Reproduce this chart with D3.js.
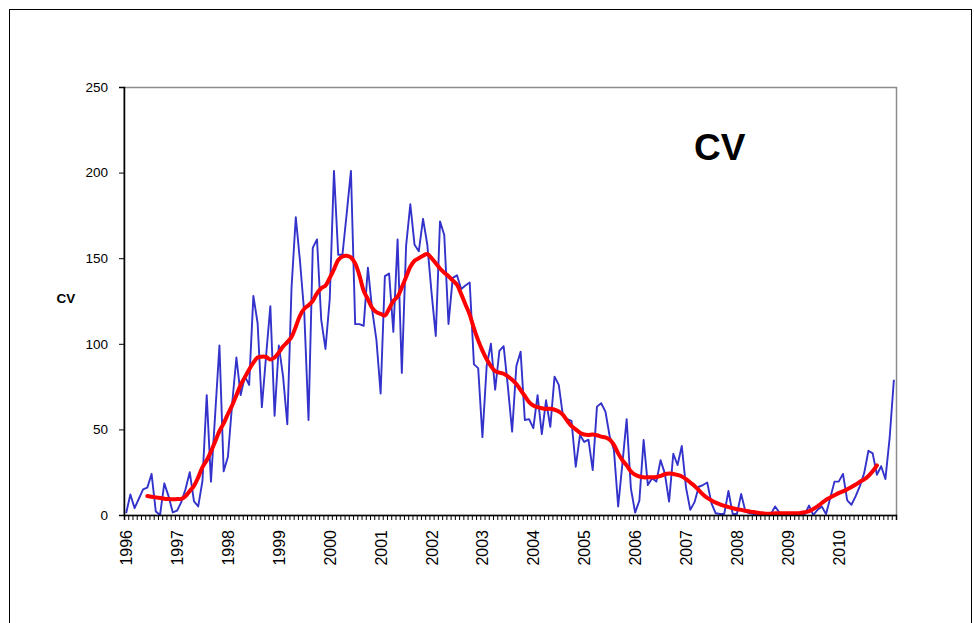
<!DOCTYPE html>
<html><head><meta charset="utf-8">
<script src="https://cdn.jsdelivr.net/npm/d3@7"></script>
<style>body{margin:0;background:#fff}svg{display:block}text{font-family:Arial,"Liberation Sans",sans-serif}</style>
</head><body>
<svg id="c" width="974" height="623"></svg>
<script>
// ---- data ----
const startYear = 1996, monthCount = 182;
const yearLabels = ["1996","1997","1998","1999","2000","2001","2002","2003","2004","2005","2006","2007","2008","2009","2010"];
const yTicks = [0, 50, 100, 150, 200, 250];
const cvMonthly = [
 1,12,4,9.5,15,16,24,2,0,18.5,11,1.5,
 2.5,7.5,15,25,8,5,20,70,19.5,59,99,25.5,
 34,65,92,70,81,76,128,112,63,93,122,58,
 99,81,53,133,174,148,118,55.5,156,161,114,97,
 126,201,152,152,176,201,111.5,111.5,110.5,144.5,120,102.5,
 71,139.5,141,107,161,83,157,181.5,157.8,154,173,158,
 130,104.6,171.5,163.6,111.6,138.5,140,132,134,135.8,88,85.8,
 45.5,87,100,73.2,95.8,98.6,75,48.7,87,95.4,55.5,56,
 50.7,70,47.3,67,51.5,80.8,76,57.5,56,55,28.2,46.7,
 42.7,44,26.2,63.3,65.3,60.4,46,38,5,30,56,15.6,
 1.4,8.4,43.8,17.5,21.4,19.5,32,24.3,7.8,35.8,29.2,40.3,
 16,3,7.5,16.5,17.5,19,6.8,1,0.6,0.6,14,0.6,
 0.6,12.3,2,1,0.5,0.5,0.5,0.5,0.5,5,1.4,0.5,
 0.5,0.5,0.5,0.5,0.5,5.5,0,3,5,0.5,10,19.5,
 19.5,24,8.5,6,11,17,24.5,37.5,36,23.5,28.5,21,
 45,79
];
const cvTrend = [
 null,null,null,null,null,11.1,10.7,10.3,9.9,9.5,9.3,9.2,
 9.3,9.4,11,14,17,22,28,32,37,43,49,53.5,
 59,64,70,76,80.5,85,89,92,92.5,92.3,90.8,92,
 95,98.4,101,104,110,116.5,120.5,122.5,125,129.5,132.5,134,
 138.5,143.5,149,151,151.4,150.5,147,140,131,126,121,118.5,
 117.5,116.5,120.5,125,127.5,133,139,145,148.5,150,151.4,152.5,
 150,147,144,141.5,139.5,137,134.5,129,123,117,109,102,
 96,91,87,84,83.2,82.5,81,79,76.5,73,69.5,66,
 64,63,62.4,62,62,61.5,60.5,58.5,55,52,50,48,
 47,46.8,47,46.6,45.8,45.3,44,41,36,32,29,25.5,
 23.5,22.5,22,22,22,22.2,22.8,23.8,24.3,24,23.4,22.5,
 21,19,17,14.5,12,10,8.5,7.2,6.2,5.4,4.6,4,
 3.4,3,2.5,2,1.7,1.3,1,0.7,0.8,1,1,1,
 1,1,1,1.2,1.6,2.2,3.5,5,7,8.8,10.2,11.5,
 12.8,13.8,15,16.3,17.8,19.4,20.8,22.8,25.5,29,null,null,
 null,null
];
const months = d3.range(monthCount).map(i => `${startYear + Math.floor(i/12)}-${String(i%12+1).padStart(2,"0")}`);

// ---- layout ----
const svg = d3.select("#c");
const L = 124, R = 896, T = 87, B = 515;

svg.append("rect").attr("x",9.5).attr("y",9.5).attr("width",962).attr("height",700)
  .attr("fill","none").attr("stroke","#000").attr("stroke-width",1);

const x = d3.scaleBand().domain(months).range([L, R]).paddingInner(0).paddingOuter(0);
const xi = d3.scaleLinear().domain([0, monthCount]).range([L, R]);
const y = d3.scaleLinear().domain([0, 250]).range([B, T]);
const cx = m => x(m) + x.bandwidth()/2;

// plot area border (gray top/right)
svg.append("rect").attr("x",L).attr("y",T+0.5).attr("width",R-L+0.5).attr("height",B-T)
  .attr("fill","none").attr("stroke","#8c8c8c").attr("stroke-width",1.5);

// lines
const blue = d3.line().x((d,i)=>cx(months[i])).y(d=>y(d));
svg.append("path").datum(cvMonthly).attr("d",blue)
  .attr("fill","none").attr("stroke","#3333CC").attr("stroke-width",1.9).attr("stroke-linejoin","round");

const red = d3.line().defined(d=>d!==null).x((d,i)=>cx(months[i])).y(d=>y(d)).curve(d3.curveCatmullRom);
svg.append("path").datum(cvTrend).attr("d",red)
  .attr("fill","none").attr("stroke","#FF0000").attr("stroke-width",4).attr("stroke-linecap","round").attr("stroke-linejoin","round");

// y axis
const ya = svg.append("g").attr("transform",`translate(${L},0)`)
  .call(d3.axisLeft(y).tickValues(yTicks).tickSize(5).tickPadding(11));
ya.select(".domain").attr("stroke","#000").attr("stroke-width",1.5);
ya.selectAll(".tick line").attr("stroke","#000");
ya.selectAll(".tick text").attr("font-size","13.5px").attr("fill","#000").attr("font-family","Arial, 'Liberation Sans', sans-serif");

// x axis ticks (every month boundary)
const xa = svg.append("g").attr("transform",`translate(0,${B})`)
  .call(d3.axisBottom(xi).tickValues(d3.range(monthCount+1)).tickSize(5).tickFormat(""));
xa.select(".domain").attr("stroke","#000").attr("stroke-width",1.5);
xa.selectAll(".tick line").attr("stroke","#000");

// year labels
svg.append("g").selectAll("text").data(yearLabels).join("text")
  .attr("transform", d => `translate(${cx(d+"-01")+6},${B+15}) rotate(-90)`)
  .attr("text-anchor","end").attr("font-size","16px").attr("fill","#000").text(d=>d);

// y axis title
svg.append("text").attr("x",66).attr("y",303).attr("text-anchor","middle")
  .attr("font-size","13.5px").attr("font-weight","bold").text("CV");

// chart title
svg.append("text").attr("x",694).attr("y",160).attr("font-size","37px").attr("font-weight","bold").text("CV");
</script>
</body></html>
